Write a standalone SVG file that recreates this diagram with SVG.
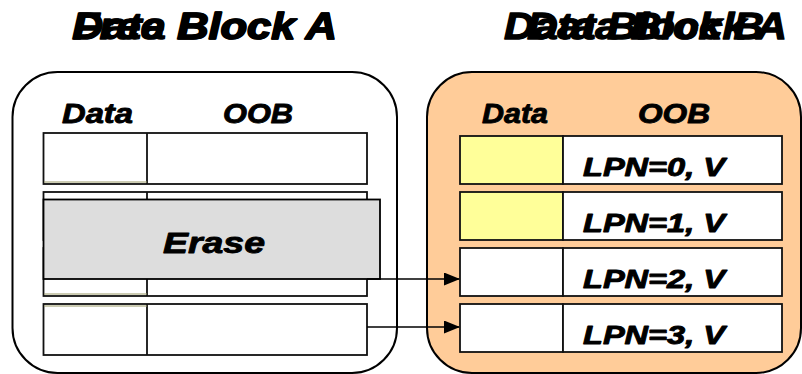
<svg xmlns="http://www.w3.org/2000/svg" width="802" height="374" viewBox="0 0 802 374">
  <style>
    .t { font-family: "Liberation Sans", Arial, sans-serif; font-weight: bold; font-style: italic; fill: #000; stroke: #000; stroke-linejoin: round; }
    .title { font-size: 36px; stroke-width: 1.3; }
    .hdr { font-size: 28px; stroke-width: 0.9; }
    .lpn { font-size: 25px; stroke-width: 0.9; }
    .erase { font-size: 30px; stroke-width: 0.9; }
    .block { stroke: #000; stroke-width: 2; }
    .cell { fill: #fff; stroke: #111; stroke-width: 1.8; }
    .used { fill: #ffff99; stroke: #111; stroke-width: 1.8; }
    .div { stroke: #111; stroke-width: 1.8; }
    .edge { stroke: #000; stroke-width: 1.5; fill: none; }
  </style>
  <defs>
    <marker id="arrow" markerWidth="16" markerHeight="13" refX="15" refY="6.5" orient="auto" markerUnits="userSpaceOnUse">
      <path d="M0,0 L16,6.5 L0,13 Z" fill="#000"/>
    </marker>
  </defs>

  <rect width="802" height="374" fill="#fff"/>

  <!-- block titles -->
  <g id="titles">
    <text class="t title" x="72" y="39" textLength="265" lengthAdjust="spacingAndGlyphs">Data Block A</text>
    <text class="t title" x="73" y="39" textLength="264" lengthAdjust="spacingAndGlyphs">Free Block A</text>
    <text class="t title" x="504" y="39" textLength="260" lengthAdjust="spacingAndGlyphs">Data Block B</text>
    <text class="t title" x="527" y="39" textLength="260" lengthAdjust="spacingAndGlyphs">Data Block A</text>
  </g>

  <!-- left block (being erased) -->
  <g id="block-a">
    <rect class="block" x="12.5" y="72" width="384.5" height="301" rx="45" fill="#fff"/>
    <text class="t hdr" x="62" y="123" textLength="71" lengthAdjust="spacingAndGlyphs">Data</text>
    <text class="t hdr" x="223" y="123" textLength="70" lengthAdjust="spacingAndGlyphs">OOB</text>
    <g id="a-page0">
      <rect class="cell" x="43.5" y="133" width="323.5" height="51"/>
      <line class="div" x1="147" y1="133" x2="147" y2="184"/>
      <line x1="44" y1="182" x2="147" y2="182" stroke="#999966" stroke-width="1"/>
    </g>
    <g id="a-page1">
      <rect class="cell" x="43.5" y="192" width="323.5" height="48"/>
      <line class="div" x1="147" y1="192" x2="147" y2="240"/>
    </g>
    <g id="a-page2">
      <rect class="cell" x="43.5" y="248" width="323.5" height="48"/>
      <line class="div" x1="147" y1="248" x2="147" y2="296"/>
      <line x1="44" y1="294" x2="147" y2="294" stroke="#999966" stroke-width="1"/>
    </g>
    <g id="a-page3">
      <rect class="cell" x="43.5" y="304" width="323.5" height="51"/>
      <line class="div" x1="147" y1="304" x2="147" y2="355"/>
      <line x1="44" y1="306" x2="147" y2="306" stroke="#999966" stroke-width="1"/>
    </g>
  </g>

  <!-- right block (copy target) -->
  <g id="block-b">
    <rect class="block" x="427" y="72" width="374" height="301" rx="45" fill="#ffcc99"/>
    <text class="t hdr" x="482" y="123" textLength="66" lengthAdjust="spacingAndGlyphs">Data</text>
    <text class="t hdr" x="638" y="123" textLength="72" lengthAdjust="spacingAndGlyphs">OOB</text>
    <g id="b-page0">
      <rect class="used" x="460" y="136" width="103" height="48"/>
      <rect class="cell" x="563" y="136" width="219" height="48"/>
      <text class="t lpn" x="583" y="176" textLength="142" lengthAdjust="spacingAndGlyphs">LPN=0, V</text>
    </g>
    <g id="b-page1">
      <rect class="used" x="460" y="192" width="103" height="48"/>
      <rect class="cell" x="563" y="192" width="219" height="48"/>
      <text class="t lpn" x="583" y="232" textLength="142" lengthAdjust="spacingAndGlyphs">LPN=1, V</text>
    </g>
    <g id="b-page2">
      <rect class="cell" x="460" y="248" width="103" height="48"/>
      <rect class="cell" x="563" y="248" width="219" height="48"/>
      <text class="t lpn" x="583" y="288" textLength="142" lengthAdjust="spacingAndGlyphs">LPN=2, V</text>
    </g>
    <g id="b-page3">
      <rect class="cell" x="460" y="304" width="103" height="48"/>
      <rect class="cell" x="563" y="304" width="219" height="48"/>
      <text class="t lpn" x="583" y="344" textLength="142" lengthAdjust="spacingAndGlyphs">LPN=3, V</text>
    </g>
  </g>

  <!-- erase overlay -->
  <g id="erase">
    <rect x="43.5" y="199.5" width="336.5" height="79.5" fill="#dddddd" stroke="#000" stroke-width="1.8"/>
    <text class="t erase" x="163" y="253" textLength="102" lengthAdjust="spacingAndGlyphs">Erase</text>
  </g>

  <!-- page copies -->
  <g id="connectors">
    <line class="edge" x1="367" y1="279" x2="459" y2="279" marker-end="url(#arrow)"/>
    <line class="edge" x1="367" y1="327" x2="459" y2="327" marker-end="url(#arrow)"/>
  </g>
</svg>
